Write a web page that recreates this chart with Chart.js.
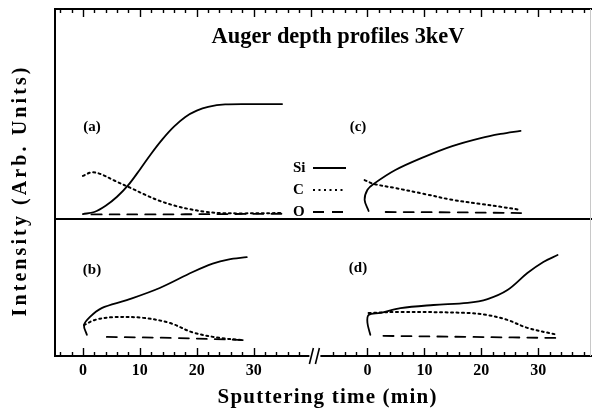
<!DOCTYPE html>
<html>
<head>
<meta charset="utf-8">
<script src="https://cdn.jsdelivr.net/npm/chart.js@4.4.1/dist/chart.umd.min.js"></script>
<style>
  html, body { margin: 0; padding: 0; background: #fff; }
  #wrap { width: 592px; height: 414px; }
</style>
</head>
<body>
<div id="wrap"><canvas id="chart"></canvas></div>
<script>
// ---- data (time in min, intensity in arb. units above each panel's baseline)

// panel (a): top left
var siTimeA = [0, 2, 4, 6, 8, 10, 12, 14, 16, 18, 20, 22, 25, 30, 35];
var siA     = [1.4, 2.0, 3.8, 6.4, 9.8, 14.2, 18.8, 23.0, 26.6, 29.4, 31.2, 32.3, 33.0, 33.1, 33.1];
var cTimeA  = [0, 1.5, 3, 5.6, 8.3, 10.9, 13.5, 16.2, 18.8, 21.4, 24.1, 28, 35];
var cA      = [12.4, 13.4, 13.0, 11.0, 9.0, 7.0, 5.2, 3.8, 2.8, 2.1, 1.7, 1.6, 1.7];
var oTimeA  = [1.5, 12, 24, 35];
var oA      = [1.3, 1.3, 1.4, 1.5];

// panel (b): bottom left
var siTimeB = [0.7, 0.2, 1.2, 3.3, 7.7, 13.5, 19.3, 22.8, 25.5, 28.8];
var siB     = [6.1, 8.9, 11.2, 13.8, 16.1, 19.6, 24.2, 26.6, 27.8, 28.5];
var cTimeB  = [0.2, 2.1, 5.3, 10.5, 15.3, 19.3, 24.1, 28.1];
var cB      = [8.9, 10.4, 11.2, 11.0, 9.5, 6.8, 5.2, 4.6];
var oTimeB  = [4.2, 16, 28.1];
var oB      = [5.5, 5.2, 4.6];

// panel (c): top right
var siTimeC = [0.2, -0.5, 0, 1.1, 4.9, 10, 14.9, 19.9, 23.4, 26.9];
var siC     = [2.3, 5.5, 8.4, 10.1, 14.1, 17.9, 21.0, 23.3, 24.5, 25.4];
var cTimeC  = [-0.5, 1.1, 4.9, 10, 14.9, 19.9, 23.4, 26.9];
var cC      = [11.2, 10.1, 8.9, 7.2, 5.5, 4.3, 3.5, 2.6];
var oTimeC  = [3.2, 15, 27];
var oC      = [2.0, 1.9, 1.7];

// panel (d): bottom right
var siTimeD = [0.5, 0, 0.2, 2.3, 5.8, 11.6, 17.6, 21.1, 24.6, 28.1, 30.9, 33.4];
var siD     = [6.1, 9.5, 11.8, 12.4, 13.8, 14.7, 15.3, 16.4, 19.0, 23.9, 27.1, 29.1];
var cTimeD  = [0.2, 5.8, 17.6, 21.1, 24.6, 28.1, 33.4];
var cD      = [12.4, 12.7, 12.4, 11.8, 10.4, 8.1, 6.1];
var oTimeD  = [2.8, 18, 33];
var oD      = [5.8, 5.5, 5.2];

// axis ticks (same labels on both sides of the break)
var tickValues = [0, 10, 20, 30];
var tickLabels = ['0', '10', '20', '30'];
var elements   = ['Si', 'C', 'O'];

// ---- layout of the panels on the shared scales
var BREAK_SHIFT = 50;   // right panels sit 50 min further along the axis
var TOP_SHIFT = 39.5;   // top panels sit above the divider
var FONT = '"Liberation Serif", "Times New Roman", serif';

var lineStyles = {
    Si: { borderDash: [], borderWidth: 1.8 },
    C:  { borderDash: [2, 3.5], borderWidth: 2 },
    O:  { borderDash: [10, 8], borderWidth: 1.8 }
};

function points(ts, vs, dx, dy) {
    return ts.map(function (t, i) { return { x: t + dx, y: vs[i] + dy }; });
}

function makeSet(name, ts, vs, dx, dy) {
    return {
        label: name,
        data: points(ts, vs, dx, dy),
        showLine: true,
        borderColor: '#000',
        backgroundColor: '#000',
        borderWidth: lineStyles[name].borderWidth,
        borderDash: lineStyles[name].borderDash,
        borderCapStyle: 'round',
        pointRadius: 0,
        tension: 0.35
    };
}

var datasets = [
    makeSet('Si', siTimeA, siA, 0, TOP_SHIFT),
    makeSet('C',  cTimeA,  cA,  0, TOP_SHIFT),
    makeSet('O',  oTimeA,  oA,  0, TOP_SHIFT),
    makeSet('Si', siTimeB, siB, 0, 0),
    makeSet('C',  cTimeB,  cB,  0, 0),
    makeSet('O',  oTimeB,  oB,  0, 0),
    makeSet('Si', siTimeC, siC, BREAK_SHIFT, TOP_SHIFT),
    makeSet('C',  cTimeC,  cC,  BREAK_SHIFT, TOP_SHIFT),
    makeSet('O',  oTimeC,  oC,  BREAK_SHIFT, TOP_SHIFT),
    makeSet('Si', siTimeD, siD, BREAK_SHIFT, 0),
    makeSet('C',  cTimeD,  cD,  BREAK_SHIFT, 0),
    makeSet('O',  oTimeD,  oD,  BREAK_SHIFT, 0)
];

// spread text to a given width (letter spacing), centred on x
function spreadText(ctx, text, x, y, width, size) {
    ctx.font = 'bold ' + size + 'px ' + FONT;
    ctx.letterSpacing = '0px';
    var w = ctx.measureText(text).width;
    var extra = (width - w) / text.length;
    ctx.letterSpacing = extra + 'px';
    ctx.textAlign = 'left';
    ctx.fillText(text, x - width / 2 + extra / 2, y);
    ctx.letterSpacing = '0px';
}

// frame, ticks, break mark, labels and legend
var figurePlugin = {
    id: 'figure',
    afterDraw: function (chart) {
        var ctx = chart.ctx;
        var xs = chart.scales.x, ys = chart.scales.y;
        var area = chart.chartArea;
        var left = area.left, right = chart.width, top = area.top, bottom = area.bottom;
        var mid = ys.getPixelForValue(TOP_SHIFT);
        var breakX = xs.getPixelForValue(40.5);

        ctx.save();
        ctx.strokeStyle = '#000';
        ctx.lineCap = 'butt';

        // frame
        ctx.lineWidth = 2;
        ctx.beginPath();
        ctx.moveTo(right, top); ctx.lineTo(left, top); ctx.lineTo(left, bottom);
        ctx.lineTo(breakX - 4, bottom);
        ctx.moveTo(breakX + 7, bottom); ctx.lineTo(right, bottom);
        ctx.moveTo(left, mid); ctx.lineTo(right, mid);
        ctx.stroke();

        ctx.strokeStyle = '#c8c8c8';
        ctx.lineWidth = 1;
        ctx.beginPath();
        ctx.moveTo(area.right + 0.5, top); ctx.lineTo(area.right + 0.5, bottom);
        ctx.stroke();

        // axis break //
        ctx.strokeStyle = '#000';
        ctx.lineWidth = 1.6;
        ctx.beginPath();
        ctx.moveTo(breakX - 4, bottom + 8); ctx.lineTo(breakX, bottom - 8);
        ctx.moveTo(breakX + 2, bottom + 8); ctx.lineTo(breakX + 6, bottom - 8);
        ctx.stroke();

        // ticks every 2 min, long ones every 10
        ctx.lineWidth = 1.4;
        ctx.beginPath();
        for (var v = -4; v <= 88; v += 2) {
            var px = Math.round(xs.getPixelForValue(v)) + 0.5;
            var major = (v % 10 === 0);
            var len = major ? 8 : 4;
            ctx.moveTo(px, top); ctx.lineTo(px, top + len);
            if (v <= 38 || v >= 44) {
                ctx.moveTo(px, bottom); ctx.lineTo(px, bottom - len);
            }
        }
        ctx.stroke();

        // tick labels
        ctx.fillStyle = '#000';
        ctx.font = 'bold 16px ' + FONT;
        ctx.textAlign = 'center';
        ctx.textBaseline = 'middle';
        [0, BREAK_SHIFT].forEach(function (shift) {
            tickValues.forEach(function (t, i) {
                ctx.fillText(tickLabels[i], xs.getPixelForValue(t + shift), bottom + 15);
            });
        });

        // title
        var title = 'Auger depth profiles 3keV';
        ctx.font = 'bold 18px ' + FONT;
        var tw = ctx.measureText(title).width;
        ctx.font = 'bold ' + (18 * 253 / tw).toFixed(2) + 'px ' + FONT;
        ctx.fillText(title, 338, 37);

        // axis titles
        spreadText(ctx, 'Sputtering time (min)', 327, 398, 220, 21);
        ctx.save();
        ctx.translate(21, 192);
        ctx.rotate(-Math.PI / 2);
        spreadText(ctx, 'Intensity (Arb. Units)', 0, 0, 252, 20);
        ctx.restore();

        // panel letters
        ctx.font = 'bold 15px ' + FONT;
        ctx.textAlign = 'center';
        ctx.fillText('(a)', 92, 127);
        ctx.fillText('(c)', 358, 127);
        ctx.fillText('(b)', 92, 270);
        ctx.fillText('(d)', 358, 268);

        // legend
        elements.forEach(function (name, i) {
            var y = 168 + i * 22;
            ctx.font = 'bold 15px ' + FONT;
            ctx.textAlign = 'left';
            ctx.fillText(name, 293, y);
            ctx.strokeStyle = '#000';
            ctx.lineWidth = lineStyles[name].borderWidth;
            ctx.setLineDash(name === 'O' ? [11, 8] : lineStyles[name].borderDash);
            ctx.beginPath();
            ctx.moveTo(313, y); ctx.lineTo(346, y);
            ctx.stroke();
        });
        ctx.setLineDash([]);
        ctx.restore();
    }
};

var chart = new Chart(document.getElementById('chart'), {
    type: 'scatter',
    data: { datasets: datasets },
    options: {
        responsive: true,
        maintainAspectRatio: false,
        animation: false,
        layout: { padding: { left: 55, right: 2, top: 9, bottom: 58 } },
        plugins: {
            legend: { display: false },
            tooltip: { enabled: false }
        },
        scales: {
            x: { type: 'linear', min: -4.9, max: 89.1, display: false },
            y: { type: 'linear', min: 0, max: 100, display: false }
        }
    },
    plugins: [figurePlugin]
});
</script>
</body>
</html>
